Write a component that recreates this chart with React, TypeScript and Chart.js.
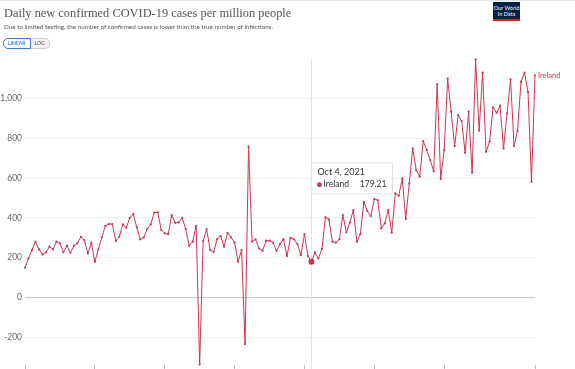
import React, { useEffect, useRef } from "react";
import { Chart, registerables, Tooltip } from "chart.js";

Chart.register(...registerables);

// Daily new confirmed COVID-19 cases per million, Ireland, from 14 Jul 2021
const startYear = 2021;
const startMonth = 6; // July (0-based)
const startDay = 14;

const irelandCases = [
  149, 196, 238, 280, 241, 216, 226, 255, 241, 280,
  272, 226, 260, 224, 260, 272, 305, 288, 221, 275,
  179, 241, 302, 360, 369, 369, 283, 305, 367, 350,
  400, 419, 352, 292, 302, 344, 367, 426, 428, 339,
  322, 318, 414, 375, 377, 400, 344, 260, 280, 360,
  -338, 283, 344, 238, 229, 293, 308, 255, 325, 302,
  275, 179, 238, -235, 758, 280, 292, 246, 234, 285,
  285, 275, 234, 268, 293, 208, 300, 292, 268, 213,
  318, 208, 179.21, 226, 196, 243, 402, 392, 280, 275,
  292, 414, 327, 377, 439, 280, 318, 481, 434, 409,
  494, 489, 347, 372, 439, 325, 523, 511, 599, 394,
  573, 749, 640, 607, 786, 741, 691, 635, 1073, 595,
  741, 1100, 934, 761, 917, 887, 727, 934, 627, 1197,
  838, 1130, 732, 783, 956, 928, 964, 749, 925, 1096,
  761, 838, 1085, 1130, 1034, 581, 1117,
];

const yTickValues = [-200, 0, 200, 400, 600, 800, 1000];
const xTickIndices = [0, 20, 40, 60, 80, 100, 120, 146];
const activeIndex = 82; // Oct 4, 2021
const seriesName = "Ireland";

const dateLabels = irelandCases.map((_, i) =>
  new Date(Date.UTC(startYear, startMonth, startDay + i)).toLocaleDateString("en-US", {
    month: "short",
    day: "numeric",
    year: "numeric",
    timeZone: "UTC",
  })
);

const LINE_COLOR = "#c9374f";

(Tooltip.positioners as any).owidFixed = function (items: any[]) {
  if (!items.length) return false;
  const el = items[0].element;
  return { x: el.x + 2, y: el.y - 99 };
};

const hoverLinePlugin = {
  id: "hoverLine",
  beforeDatasetsDraw(chart: any) {
    const el = chart.getDatasetMeta(0).data[activeIndex];
    if (!el) return;
    const { ctx, chartArea } = chart;
    ctx.save();
    ctx.strokeStyle = "#e3e3e3";
    ctx.lineWidth = 1;
    ctx.beginPath();
    ctx.moveTo(Math.round(el.x) + 0.5, chartArea.top + 4);
    ctx.lineTo(Math.round(el.x) + 0.5, chartArea.bottom + 4);
    ctx.stroke();
    ctx.restore();
  },
};

const endLabelPlugin = {
  id: "endLabel",
  afterDatasetsDraw(chart: any) {
    const meta = chart.getDatasetMeta(0);
    const el = meta.data[meta.data.length - 1];
    if (!el) return;
    const { ctx } = chart;
    ctx.save();
    ctx.fillStyle = LINE_COLOR;
    ctx.font = "7.5px Lato";
    ctx.textBaseline = "middle";
    ctx.textAlign = "left";
    ctx.fillText(seriesName, el.x + 3, el.y);
    ctx.restore();
  },
};

function ChartCanvas() {
  const ref = useRef<HTMLCanvasElement>(null);
  useEffect(() => {
    if (!ref.current) return;
    const chart = new Chart(ref.current, {
      type: "line",
      data: {
        labels: dateLabels,
        datasets: [
          {
            label: seriesName,
            data: irelandCases,
            borderColor: LINE_COLOR,
            backgroundColor: LINE_COLOR,
            borderWidth: 1,
            pointRadius: 1.1,
            pointBorderWidth: 0,
            pointBackgroundColor: LINE_COLOR,
            pointHoverRadius: 3,
            pointHoverBorderWidth: 0,
            pointHoverBackgroundColor: LINE_COLOR,
            tension: 0,
            clip: false as any,
          },
        ],
      },
      options: {
        responsive: false,
        animation: false,
        devicePixelRatio: 1,
        events: [],
        layout: { padding: { top: 55, right: 40, bottom: 0, left: 0 } },
        plugins: {
          legend: { display: false },
          title: { display: false },
          tooltip: {
            enabled: true,
            position: "owidFixed" as any,
            xAlign: "left",
            yAlign: "top",
            caretSize: 0,
            caretPadding: 0,
            cornerRadius: 2,
            backgroundColor: "rgba(255,255,255,0.97)",
            borderColor: "#e2e2e2",
            borderWidth: 1,
            padding: { top: 4, bottom: 4, left: 6, right: 6 },
            titleColor: "#333",
            titleFont: { family: "Lato", size: 9, weight: "normal" },
            titleMarginBottom: 2,
            bodyColor: "#333",
            bodyFont: { family: "Lato", size: 8.5 },
            displayColors: true,
            usePointStyle: true,
            boxWidth: 4,
            boxHeight: 4,
            callbacks: {
              title: (items: any[]) => dateLabels[items[0].dataIndex],
              label: (item: any) => `${seriesName}     ${item.raw}`,
              labelColor: () => ({ borderColor: LINE_COLOR, backgroundColor: LINE_COLOR }),
              labelPointStyle: () => ({ pointStyle: "circle", rotation: 0 }),
            },
          },
        },
        scales: {
          x: {
            type: "category",
            offset: false,
            border: { display: false },
            grid: { drawOnChartArea: false, drawTicks: true, tickLength: 4, color: "#c0c0c0" },
            ticks: { display: false },
            afterBuildTicks: (scale: any) => {
              scale.ticks = xTickIndices.map((v) => ({ value: v }));
            },
            afterFit: (scale: any) => {
              scale.height = 4;
              scale.paddingLeft = 0;
              scale.paddingRight = 0;
            },
          },
          y: {
            min: -340,
            max: 1219,
            border: { display: false },
            grid: {
              drawTicks: false,
              color: (c: any) => (c.tick && c.tick.value === 0 ? "#c8c8c8" : "#efefef"),
            },
            ticks: {
              color: "#666",
              font: { family: "Lato", size: 8.5 },
              padding: 3,
              callback: (v: any) => Number(v).toLocaleString("en-US"),
            },
            afterBuildTicks: (scale: any) => {
              scale.ticks = yTickValues.map((v) => ({ value: v }));
            },
            afterFit: (scale: any) => {
              scale.width = 25;
              scale.paddingTop = 0;
              scale.paddingBottom = 0;
            },
          },
        },
      },
      plugins: [hoverLinePlugin, endLabelPlugin],
    });
    const active = [{ datasetIndex: 0, index: activeIndex }];
    chart.setActiveElements(active);
    chart.tooltip?.setActiveElements(active, { x: 0, y: 0 });
    chart.update();
    return () => chart.destroy();
  }, []);
  return (
    <canvas
      ref={ref}
      width={575}
      height={369}
      style={{ position: "absolute", left: 0, top: 0, width: 575, height: 369 }}
    />
  );
}

export default function App() {
  return (
    <div
      style={{
        position: "fixed",
        left: 0,
        top: 0,
        width: 575,
        height: 369,
        overflow: "hidden",
        background: "#fff",
      }}
    >
      <ChartCanvas />
      <div style={{ position: "absolute", left: 0, top: 0, width: 575, height: 1, background: "#e4e4e4" }} />
      <div
        style={{
          position: "absolute",
          left: 4,
          top: 5,
          font: "12.4px 'Liberation Serif'",
          color: "#555",
          whiteSpace: "nowrap",
          lineHeight: "16px",
        }}
      >
        Daily new confirmed COVID-19 cases per million people
      </div>
      <div
        style={{
          position: "absolute",
          left: 4,
          top: 23,
          font: "6.3px Lato",
          color: "#555",
          whiteSpace: "nowrap",
          lineHeight: "8px",
        }}
      >
        Due to limited testing, the number of confirmed cases is lower than the true number of infections.
      </div>
      <div style={{ position: "absolute", left: 3, top: 38, display: "flex", font: "bold 5px Lato" }}>
        <div
          style={{
            border: "1px solid #3c7bd0",
            borderRadius: "5px 0 0 5px",
            color: "#3c7bd0",
            padding: "1px 4px",
            lineHeight: "7px",
          }}
        >
          LINEAR
        </div>
        <div
          style={{
            border: "1px solid #ccc",
            borderLeft: "none",
            borderRadius: "0 5px 5px 0",
            color: "#777",
            padding: "1px 4px",
            lineHeight: "7px",
            background: "#f2f2f2",
          }}
        >
          LOG
        </div>
      </div>
      <div
        style={{
          position: "absolute",
          left: 493,
          top: 2,
          width: 27,
          height: 19,
          background: "#002147",
          borderBottom: "2px solid #ce261e",
          color: "#fff",
          font: "5.5px Lato",
          lineHeight: "6px",
          textAlign: "center",
          paddingTop: 3,
          boxSizing: "border-box",
        }}
      >
        Our World
        <br />
        in Data
      </div>
    </div>
  );
}
